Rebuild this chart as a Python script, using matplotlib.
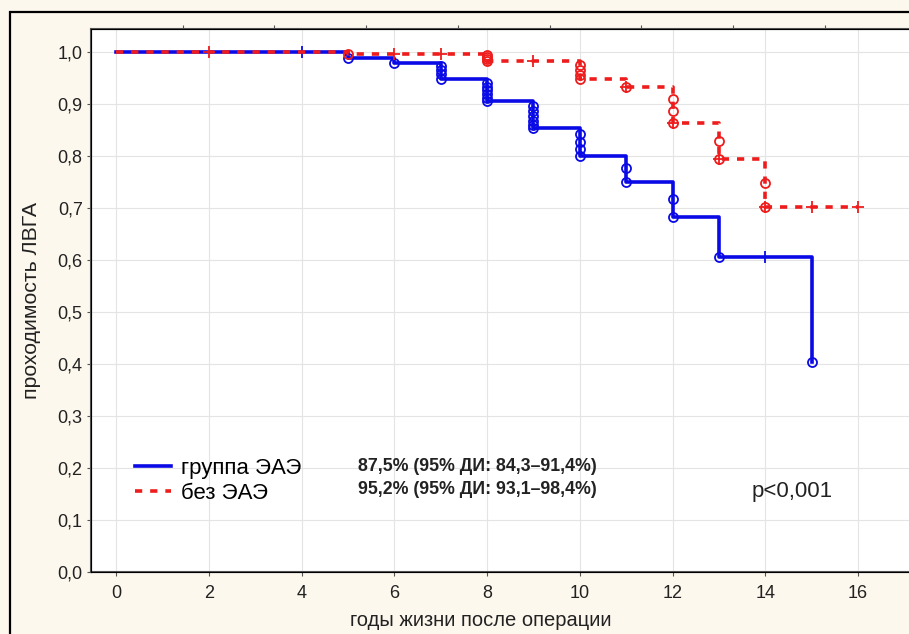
import matplotlib.pyplot as plt
from matplotlib.patches import Rectangle

plt.rcParams['font.family'] = ['Liberation Sans', 'DejaVu Sans']

# группа ЭАЭ (blue)
eae_t = [0, 5, 6, 7, 8, 9, 10, 11, 12, 13, 15]
eae_s = [1.0, 0.988, 0.978, 0.948, 0.906, 0.853, 0.799, 0.749, 0.682, 0.606, 0.404]
eae_end = 15
eae_events = {
    5: [0.988],
    6: [0.978],
    7: [0.972, 0.965, 0.958, 0.948],
    8: [0.940, 0.933, 0.926, 0.919, 0.912, 0.906],
    9: [0.895, 0.886, 0.877, 0.868, 0.860, 0.853],
    10: [0.842, 0.827, 0.813, 0.799],
    11: [0.776, 0.749],
    12: [0.717, 0.682],
    13: [0.606],
    15: [0.404],
}
eae_cens = [4, 14]

# без ЭАЭ (red)
no_t = [0, 5, 8, 10, 11, 12, 13, 14]
no_s = [1.0, 0.996, 0.983, 0.948, 0.933, 0.863, 0.794, 0.701]
no_end = 16
no_events = {
    5: [0.996],
    8: [0.994, 0.990, 0.986, 0.983],
    10: [0.975, 0.965, 0.955, 0.948],
    11: [0.933],
    12: [0.910, 0.887, 0.863],
    13: [0.829, 0.794],
    14: [0.748, 0.701],
}
no_cens = [2, 6, 7, 9, 11, 12, 13, 14, 15, 16]

x_ticks = list(range(0, 17, 2))
y_ticks = [i / 10 for i in range(11)]
blue = '#0a0ae6'
red = '#ee1c1c'


def level_at(times, surv, x):
    v = surv[0]
    for t, s in zip(times, surv):
        if t <= x:
            v = s
    return v


W, H = 909, 634
fig = plt.figure(figsize=(W / 100, H / 100), dpi=100, facecolor='#fdf8ee')
fig.patches.append(Rectangle((10 / W, -0.05), 1.1, 1 - 12 / H + 0.05, transform=fig.transFigure,
                             fill=False, edgecolor='black', linewidth=1.6))

px_per_yr = 46.375
x0 = -0.54
x1 = x0 + (923 - 91) / px_per_yr
ax = fig.add_axes([91 / W, (H - 572) / H, (923 - 91) / W, (572 - 29) / H])
ax.set_xlim(x0, x1)
ax.set_ylim(0, 1.044)

# KM step curves
ax.step(eae_t + [eae_end], eae_s + [eae_s[-1]], where='post', color=blue, lw=2.6,
        label='группа ЭАЭ', zorder=3)
ax.step(no_t + [no_end], no_s + [no_s[-1]], where='post', color=red, lw=2.6,
        dashes=(2, 2.2), label='без ЭАЭ', zorder=4)

for t, vals in eae_events.items():
    ax.plot([t] * len(vals), vals, 'o', ms=6.5, mfc='none', mec=blue, mew=1.3, zorder=3)
for t, vals in no_events.items():
    ax.plot([t] * len(vals), vals, 'o', ms=6.5, mfc='none', mec=red, mew=1.3, zorder=4)
ax.plot(eae_cens, [level_at(eae_t, eae_s, c) for c in eae_cens], '+', ms=9, color=blue,
        mew=1.3, zorder=3)
ax.plot(no_cens, [level_at(no_t, no_s, c) for c in no_cens], '+', ms=9, color=red,
        mew=1.3, zorder=4)

ax.set_xticks(x_ticks)
ax.set_yticks(y_ticks)
ax.set_yticklabels([f'{v:.1f}'.replace('.', ',') for v in y_ticks])
ax.tick_params(length=3, color='#555555')
ax.tick_params(axis='y', labelsize=13, pad=3, labelcolor='#222222')
ax.tick_params(axis='x', labelsize=13, pad=6, labelcolor='#222222')
ax.grid(True, color='#e4e4e4', lw=0.8)
for sp in ax.spines.values():
    sp.set_color('#555555')
    sp.set_linewidth(1.5)

ax.set_xlabel('годы жизни после операции', fontsize=14.5, color='#222222')
ax.set_ylabel('проходимость ЛВГА', fontsize=15.3, color='#222222')
ax.xaxis.set_label_coords((481 - 91) / (923 - 91), -(620 - 572) / 543)
ax.yaxis.set_label_coords(-(91 - 32) / 832, 0.5)
ax.xaxis.label.set_va('center')
ax.yaxis.label.set_va('center')

top = ax.twiny()
top.set_xlim(0, (923 - 91) / 91.7)
top.set_xticks(range(1, 10))
top.tick_params(labeltop=False, length=3, color='#555555')

leg = ax.legend(loc='upper left', bbox_to_anchor=((135 - 91) / 832, (572 - 458) / 543),
                frameon=False, fontsize=16, handlelength=1.6, handletextpad=0.45,
                labelspacing=0.18, borderpad=0, borderaxespad=0)

ax.text(5.22, 0.202, '87,5% (95% ДИ: 84,3–91,4%)', fontsize=12.8, fontweight='bold', va='center',
        color='#222222')
ax.text(5.22, 0.158, '95,2% (95% ДИ: 93,1–98,4%)', fontsize=12.8, fontweight='bold', va='center',
        color='#222222')
ax.text(13.7, 0.154, 'p<0,001', fontsize=16, va='center', color='#222222')

fig.savefig('out.png', dpi=100, facecolor=fig.get_facecolor())
